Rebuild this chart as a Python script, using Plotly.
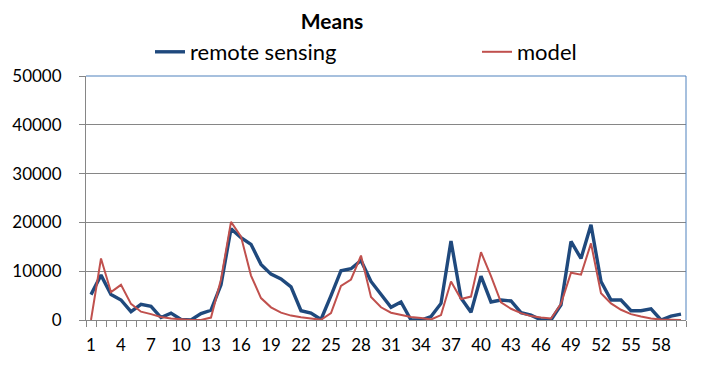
import plotly.graph_objects as go

categories = list(range(1, 61))
remote_sensing = [5200, 9200, 5200, 4100, 1700, 3200, 2800, 500, 1400, 100,
                  0, 1300, 2000, 7200, 18700, 16900, 15500, 11400, 9400, 8400,
                  6800, 1900, 1400, 100, 5000, 10100, 10500, 12200, 7900, 5200,
                  2600, 3700, 0, 0, 700, 3400, 16200, 4500, 1600, 9000,
                  3700, 4100, 3900, 1500, 1000, 0, 0, 3100, 16100, 12600,
                  19500, 7900, 4100, 4100, 1900, 1900, 2300, 0, 800, 1200]
model = [0, 12600, 5700, 7200, 3300, 1700, 1200, 600, 300, 100,
         0, 0, 500, 8300, 20100, 17100, 9100, 4500, 2600, 1500,
         900, 550, 300, 50, 1400, 7000, 8300, 13200, 4700, 2600,
         1500, 1000, 600, 400, 100, 1000, 7900, 4300, 4800, 13900,
         9000, 3600, 2300, 1400, 800, 500, 300, 3300, 9700, 9300,
         15700, 5500, 3400, 2100, 1200, 700, 300, 100, 50, 20]
xtick_values = list(range(1, 61, 3))
xtick_labels = [str(v) for v in xtick_values]
ytick_values = [0, 10000, 20000, 30000, 40000, 50000]

FONT = "Lato"
fig = go.Figure()
fig.add_trace(go.Scatter(x=categories, y=remote_sensing, mode="lines",
                         name="remote sensing", legend="legend",
                         line=dict(color="#1F497D", width=3.4)))
fig.add_trace(go.Scatter(x=categories, y=model, mode="lines", name="model",
                         legend="legend2",
                         line=dict(color="#C0504D", width=2)))

# page body has an 8px margin: figure drawn at (8, 8)
fig.update_layout(
    width=706, height=364,
    margin=dict(l=78, r=28, t=68, b=52, autoexpand=False),
    paper_bgcolor="white", plot_bgcolor="white",
    font=dict(family=FONT, size=16, color="black"),
    title=dict(text="<b>Means</b>", x=(332 - 8) / 706, xanchor="center",
               y=1 - 14 / 364, yanchor="middle", font=dict(family=FONT, size=21)),
    showlegend=True,
    legend=dict(orientation="h", x=(150 - 86) / 600, xanchor="left",
                y=(320 - 52) / 244, yanchor="middle",
                font=dict(family=FONT, size=22), bgcolor="rgba(0,0,0,0)"),
    legend2=dict(orientation="h", x=(477 - 86) / 600, xanchor="left",
                 y=(320 - 52) / 244, yanchor="middle",
                 font=dict(family=FONT, size=22), bgcolor="rgba(0,0,0,0)"),
)

fig.update_xaxes(
    range=[0.5, 60.5], showgrid=False, zeroline=False,
    showline=True, linecolor="#868686", linewidth=1,
    tickmode="array", tickvals=xtick_values, ticktext=xtick_labels,
    ticks="", tickfont=dict(family=FONT, size=17), ticklabelstandoff=10,
    minor=dict(ticks="outside", tickmode="linear", tick0=0.5, dtick=1,
               ticklen=6, tickcolor="#868686", showgrid=False),
)
fig.update_yaxes(
    range=[0, 50000], tickvals=ytick_values, tickformat="d",
    showgrid=True, gridcolor="#868686", gridwidth=1, zeroline=False,
    showline=True, linecolor="#868686", linewidth=1,
    ticks="outside", ticklen=6, tickcolor="#868686",
    tickfont=dict(family=FONT, size=17), ticklabelstandoff=14,
)
fig.add_shape(type="line", xref="x domain", yref="y domain", x0=0, x1=1, y0=1, y1=1,
              line=dict(color="#4F81BD", width=1))
fig.add_shape(type="line", xref="x domain", yref="y domain", x0=1, x1=1, y0=0, y1=1,
              line=dict(color="#4F81BD", width=1))

fig.write_html("out.html")
